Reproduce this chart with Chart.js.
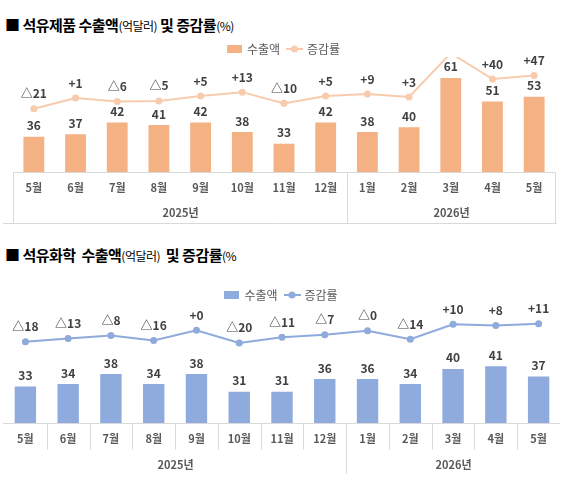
<!DOCTYPE html>
<html>
<head>
<meta charset="utf-8">
<script src="https://cdn.jsdelivr.net/npm/chart.js@4.4.0/dist/chart.umd.min.js"></script>
<style>
  body { margin: 0; background: #fff; width: 569px; height: 484px; position: relative; overflow: hidden; font-family: "Noto Sans CJK KR", sans-serif; }
  .title { position: absolute; left: 5px; font-size: 15px; font-weight: bold; color: #000; white-space: nowrap; line-height: 20px; letter-spacing: -0.5px; }
  .title small { font-size: 12px; font-weight: normal; letter-spacing: -0.5px; }
  #t1 { top: 15px; }
  #t2 { top: 245px; }
  canvas { position: absolute; left: 0; }
  #c1 { top: 0; }
  #c2 { top: 235px; }
</style>
</head>
<body>
<div class="title" id="t1">■ 석유제품 수출액<small>(억달러)</small> 및 증감률<small>(%)</small></div>
<div class="title" id="t2">■ 석유화학&nbsp; 수출액<small>(억달러)</small>&nbsp; 및 증감률<small>(%</small></div>
<canvas id="c1" width="569" height="235"></canvas>
<canvas id="c2" width="569" height="249"></canvas>
<script>
// Categories
const months = ['5월', '6월', '7월', '8월', '9월', '10월', '11월', '12월', '1월', '2월', '3월', '4월', '5월'];
const years = ['2025년', '2026년'];
const yearSpans = [8, 5];

// 석유제품: 수출액(억달러), 증감률(%)
const productExports = [36, 37, 42, 41, 42, 38, 33, 42, 38, 40, 61, 51, 53];
const productGrowth = [-21, 1, -6, -5, 5, 13, -10, 5, 9, 3, 93, 40, 47];

// 석유화학: 수출액(억달러), 증감률(%)
const chemExports = [33, 34, 38, 34, 38, 31, 31, 36, 36, 34, 40, 41, 37];
const chemGrowth = [-18, -13, -8, -16, 0.3, -20, -11, -7, -0.3, -14, 10, 8, 11];

const FONT = '"Noto Sans CJK KR", sans-serif';
const GRAY = '#595959';

// Growth label: △ for decrease, + for increase
const fmtGrowth = v => (v < 0 ? '△' : '+') + Math.round(Math.abs(v));

// Legend markers
function rectMarker(color) {
    const c = document.createElement('canvas');
    c.width = 15; c.height = 8;
    const g = c.getContext('2d');
    g.fillStyle = color;
    g.fillRect(0, 0, 15, 8);
    return c;
}
function lineMarker(color) {
    const c = document.createElement('canvas');
    c.width = 17; c.height = 8;
    const g = c.getContext('2d');
    g.strokeStyle = color; g.lineWidth = 2;
    g.beginPath(); g.moveTo(0, 4); g.lineTo(17, 4); g.stroke();
    g.fillStyle = color;
    g.beginPath(); g.arc(8.5, 4, 3.5, 0, Math.PI * 2); g.fill();
    return c;
}

// Table-like category axis with year rows
const tablePlugin = {
    id: 'table',
    afterDraw(chart, args, o) {
        const { ctx, chartArea: a, scales: { x } } = chart;
        const edge = i => Math.round(x.getPixelForValue(i - 0.5)) + 0.5;
        const b = a.bottom + 0.5;
        const line = (x1, y1, x2, y2) => { ctx.beginPath(); ctx.moveTo(x1, y1); ctx.lineTo(x2, y2); ctx.stroke(); };
        ctx.save();
        ctx.strokeStyle = '#d9d9d9';
        ctx.lineWidth = 1;
        line(o.baseFrom, b, o.baseTo, b);
        if (o.style === 'box') {
            line(edge(0), b, edge(0), b + o.height);
            line(edge(yearSpans[0]), b, edge(yearSpans[0]), b + o.height);
            line(edge(months.length), b, edge(months.length), b + o.height);
            line(o.baseFrom - 10, b + o.height, edge(months.length) + 1, b + o.height);
        } else {
            for (let i = 1; i < months.length; i++) {
                line(edge(i), b, edge(i), b + (i === yearSpans[0] ? o.height : o.cellHeight));
            }
        }
        ctx.fillStyle = GRAY;
        ctx.font = 'bold 11px ' + FONT;
        ctx.textAlign = 'center';
        ctx.textBaseline = 'middle';
        let start = 0;
        years.forEach((y, i) => {
            const end = start + yearSpans[i];
            ctx.fillText(y, (edge(start) + edge(end)) / 2, a.bottom + o.yearOffset);
            start = end;
        });
        ctx.restore();
    }
};

// Value labels above bars and points
const labelPlugin = {
    id: 'valueLabels',
    afterDatasetsDraw(chart, args, o) {
        const { ctx, chartArea: a } = chart;
        ctx.save();
        ctx.fillStyle = '#404040';
        ctx.font = 'bold 12px ' + FONT;
        ctx.textAlign = 'center';
        ctx.textBaseline = 'middle';
        chart.data.datasets.forEach((ds, di) => {
            const meta = chart.getDatasetMeta(di);
            meta.data.forEach((el, i) => {
                if (el.y < a.top - o.clipTop) return;
                const text = ds.type === 'line' ? fmtGrowth(ds.data[i]) : String(ds.data[i]);
                ctx.fillText(text, el.x, el.y - (ds.type === 'line' ? o.lineOffset : o.barOffset));
            });
        });
        ctx.restore();
    }
};

function makeChart(canvas, c) {
    return new Chart(canvas, {
        data: {
            labels: months,
            datasets: [{
                type: 'bar',
                label: '수출액',
                data: c.bars,
                backgroundColor: c.barColor,
                barPercentage: 0.5,
                categoryPercentage: 1,
                yAxisID: 'yBar',
                order: 1
            }, {
                type: 'line',
                label: '증감률',
                data: c.line,
                borderColor: c.lineColor,
                backgroundColor: c.lineColor,
                borderWidth: 2,
                pointRadius: 3.5,
                pointBorderWidth: 0,
                tension: 0,
                yAxisID: 'yLine',
                clip: { left: false, top: c.clipTop, right: false, bottom: false },
                order: 0
            }]
        },
        options: {
            responsive: false,
            animation: false,
            layout: { padding: c.padding },
            plugins: {
                tooltip: { enabled: false },
                legend: {
                    position: 'top',
                    labels: {
                        usePointStyle: true,
                        pointStyleWidth: 13,
                        padding: 8,
                        color: GRAY,
                        font: { family: FONT, size: 12 },
                        generateLabels: () => [
                            { text: '수출액', pointStyle: rectMarker(c.barColor), datasetIndex: 0, fontColor: GRAY, lineWidth: 0 },
                            { text: '증감률', pointStyle: lineMarker(c.lineColor), datasetIndex: 1, fontColor: GRAY, lineWidth: 0 }
                        ]
                    }
                },
                table: c.table,
                valueLabels: { clipTop: c.clipTop, lineOffset: 15, barOffset: 11 }
            },
            scales: {
                x: {
                    type: 'category',
                    offset: true,
                    grid: { display: false, drawTicks: false },
                    border: { display: false },
                    ticks: { color: GRAY, font: { family: FONT, size: 11, weight: 'bold' }, padding: 9, maxRotation: 0, autoSkip: false },
                    afterFit: s => { s.height = c.table.height; }
                },
                yBar: { display: false, min: c.barMin, max: c.barMax },
                yLine: { display: false, min: c.lineMin, max: c.lineMax }
            }
        },
        plugins: [tablePlugin, labelPlugin]
    });
}

makeChart(document.getElementById('c1'), {
    bars: productExports, line: productGrowth,
    barColor: '#F4B183', lineColor: '#F8CBAD',
    barMin: 21, barMax: 66.5, lineMin: -150.8, lineMax: 68.7, clipTop: 8,
    padding: { top: 35, left: 13, right: 14, bottom: 12 },
    table: { style: 'box', height: 51, yearOffset: 41, baseFrom: 13, baseTo: 555 }
});

makeChart(document.getElementById('c2'), {
    bars: chemExports, line: chemGrowth,
    barColor: '#8FAADC', lineColor: '#8FAADC',
    barMin: 18.6, barMax: 62.9, lineMin: -149.2, lineMax: 31.5, clipTop: 40,
    padding: { top: 46, left: 3, right: 9, bottom: 11 },
    table: { style: 'cells', height: 50, cellHeight: 26, yearOffset: 42, baseFrom: 3, baseTo: 560 }
});
</script>
</body>
</html>
